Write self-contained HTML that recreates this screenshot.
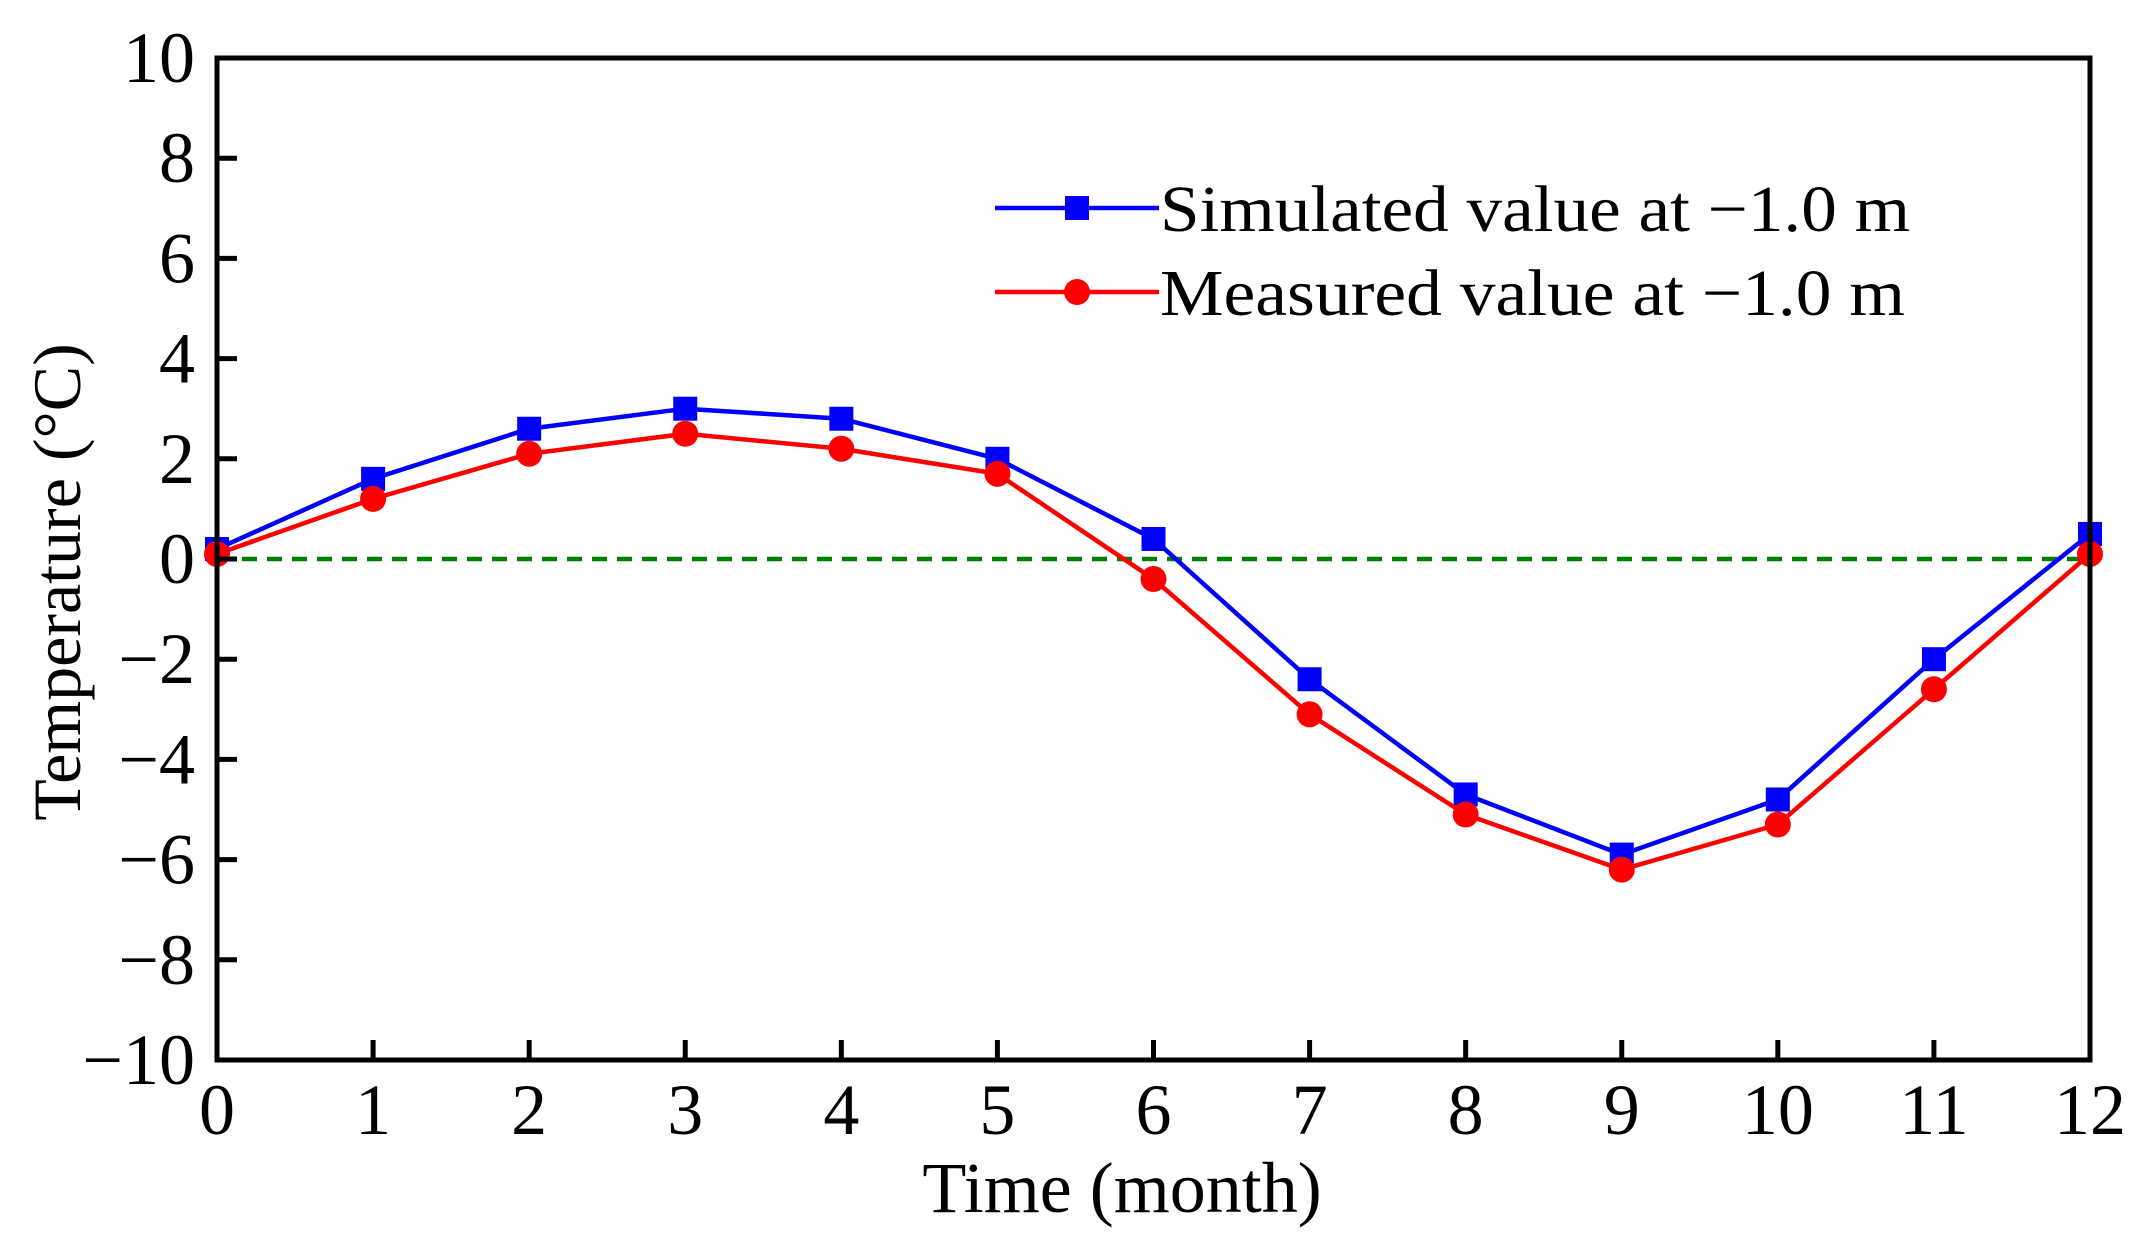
<!DOCTYPE html>
<html><head><meta charset="utf-8"><style>
html,body{margin:0;padding:0;background:#fff;}
svg{display:block;}
text{font-family:"Liberation Serif","Times New Roman",serif;}
</style></head><body>
<svg id="chart" width="2153" height="1255" viewBox="0 0 2153 1255">
<g id="grid"></g>
<g id="series"></g>
<g id="axes"></g>
<g id="legend"></g>
</svg>
<script>
const months = [0,1,2,3,4,5,6,7,8,9,10,11,12];
const simulated = [0.2,1.6,2.6,3.0,2.8,2.0,0.4,-2.4,-4.7,-5.9,-4.8,-2.0,0.5];
const measured = [0.1,1.2,2.1,2.5,2.2,1.7,-0.4,-3.1,-5.1,-6.2,-5.3,-2.6,0.1];
const yTicks = [-10,-8,-6,-4,-2,0,2,4,6,8,10];
const xTicks = [0,1,2,3,4,5,6,7,8,9,10,11,12];

const L=217,R=2090,T=58,B=1060;
const FF='"Liberation Serif","Times New Roman",serif';
const xs=v=>L+(v-0)/(12-0)*(R-L);
const ys=v=>B-(v+10)/20*(B-T);
const NS='http://www.w3.org/2000/svg';
function mk(tag,attrs,parent){const e=document.createElementNS(NS,tag);for(const k in attrs)e.setAttribute(k,attrs[k]);if(tag==='text')e.setAttribute('font-family',FF);parent.appendChild(e);return e;}
const axes=document.getElementById('axes'),series=document.getElementById('series'),grid=document.getElementById('grid'),legend=document.getElementById('legend');

const z=mk('line',{x1:L,x2:R,y1:ys(0),y2:ys(0),stroke:'#008000','stroke-width':4.5,'stroke-dasharray':'15 10'},grid);



function drawSeries(vals,color,shape,name){
  const pts=vals.map((v,i)=>xs(months[i])+','+ys(v)).join(' ');
  const pl=mk('polyline',{points:pts,fill:'none',stroke:color,'stroke-width':4.5},series);
  
  
  vals.forEach((v,i)=>{
    let m;
    if(shape==='square') m=mk('rect',{x:xs(months[i])-12,y:ys(v)-12,width:24,height:24,fill:color},series);
    else m=mk('circle',{cx:xs(months[i]),cy:ys(v),r:13,fill:color},series);
    
    
  });
}
drawSeries(simulated,'#0000ff','square','simulated');
drawSeries(measured,'#ff0000','circle','measured');

const fr=mk('rect',{x:L,y:T,width:R-L,height:B-T,fill:'none',stroke:'#000','stroke-width':5},axes);



yTicks.forEach(t=>{
  const y=ys(t);
  const tk=mk('line',{x1:L,x2:L+20,y1:y,y2:y,stroke:'#000','stroke-width':5},axes);
  
  
  const tx=mk('text',{x:L-22,y:y+24,'text-anchor':'end','font-size':72},axes);
  tx.textContent=t<0?'\u2212'+Math.abs(t):String(t);
  
  
});
xTicks.forEach(t=>{
  const x=xs(t);
  const tk=mk('line',{x1:x,x2:x,y1:B,y2:B-20,stroke:'#000','stroke-width':5},axes);
  
  
  const tx=mk('text',{x:x,y:B+74,'text-anchor':'middle','font-size':72},axes);
  tx.textContent=String(t);
  
  
});
const xt=mk('text',{x:1122,y:1212,'text-anchor':'middle','font-size':72},axes);
xt.textContent='Time (month)';


const yt=mk('text',{x:0,y:0,'text-anchor':'middle','font-size':68,transform:'translate(80,582) rotate(-90)'},axes);
yt.textContent='Temperature (\u00B0C)';



const entries=[['Simulated value at \u22121.0 m','#0000ff','square',208],['Measured value at \u22121.0 m','#ff0000','circle',292]];
entries.forEach(([label,color,shape,y])=>{
  const ln=mk('line',{x1:995,x2:1159,y1:y,y2:y,stroke:color,'stroke-width':4.5},legend);
  
  
  let m;
  if(shape==='square') m=mk('rect',{x:1077-12,y:y-12,width:24,height:24,fill:color},legend);
  else m=mk('circle',{cx:1077,cy:y,r:13,fill:color},legend);
  
  
  const tx=mk('text',{x:1160,y:y+23,'font-size':66,textLength:(shape==='square'?750:745),lengthAdjust:'spacingAndGlyphs'},legend);
  tx.textContent=label;
  
  
});
</script>
</body></html>
